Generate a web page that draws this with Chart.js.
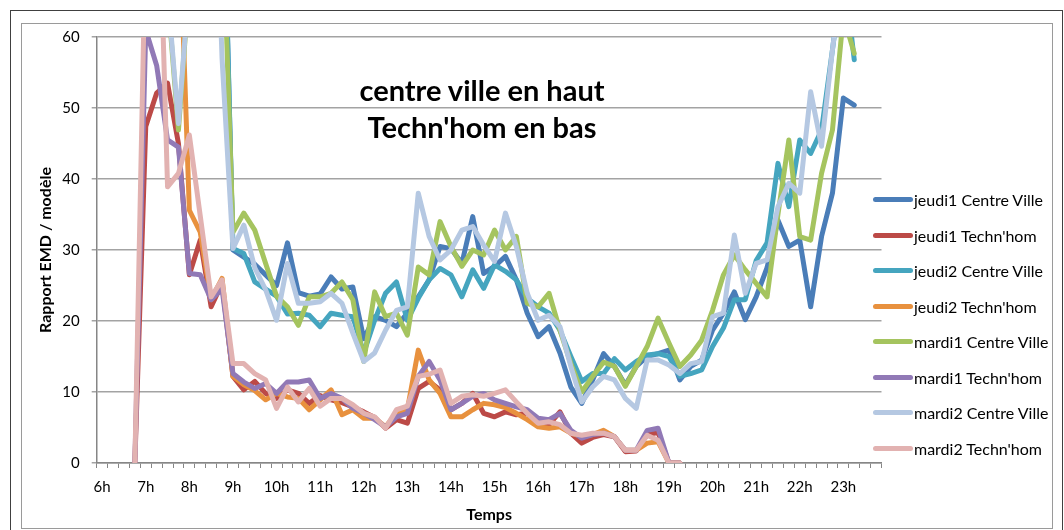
<!DOCTYPE html>
<html>
<head>
<meta charset="utf-8">
<script src="https://cdn.jsdelivr.net/npm/chart.js@4.4.0/dist/chart.umd.min.js"></script>
<style>
  html, body { margin:0; padding:0; background:#fff; }
  #wrap { position:relative; width:1064px; height:530px; overflow:hidden; font-family:Lato, "Liberation Sans", sans-serif; }
  #c { position:absolute; left:0; top:0; }
  #outer { position:absolute; left:10px; top:10px; width:1051px; height:540px; border:1px solid #404040; pointer-events:none; }
  #frame { position:absolute; left:21px; top:23px; width:1030px; height:504px; border:1px solid #9a9a9a; pointer-events:none; }
  #title { position:absolute; left:232px; top:71px; width:500px; text-align:center; font-weight:bold; font-size:29px; line-height:37px; color:#000; }
  #legend { position:absolute; left:873px; top:182px; }
  .item { height:35.5px; display:flex; align-items:center; font-size:16px; color:#000; white-space:nowrap; }
  .swatch { width:40px; height:5px; border-radius:3px; margin-right:1px; }
</style>
</head>
<body>
<div id="wrap">
  <canvas id="c" width="1064" height="530"></canvas>
  <div id="title">centre ville en haut<br>Techn'hom en bas</div>
  <div id="legend"></div>
  <div id="frame"></div>
  <div id="outer"></div>
</div>
<script>
// heures affichées sur l'axe (une catégorie par quart d'heure)
const HOURS = ["6h","7h","8h","9h","10h","11h","12h","13h","14h","15h","16h","17h","18h","19h","20h","21h","22h","23h"];
const QUARTERS = ["00","15","30","45"];

const SERIES_NAMES = [
  "jeudi1 Centre Ville", "jeudi1 Techn'hom",
  "jeudi2 Centre Ville", "jeudi2 Techn'hom",
  "mardi1 Centre Ville", "mardi1 Techn'hom",
  "mardi2 Centre Ville", "mardi2 Techn'hom"
];
const SERIES_COLORS = ["#4A7DB8","#BC4A47","#45A5BF","#E8913E","#A5C45F","#9179B6","#B5C8E2","#E2B2B1"];

// valeurs (>60 = hors cadre)
const jeudi1CV = [null,null,null,null,null,100,100,100,100,100,100,90,
  30,29,28,26.5,25,31,24,23.5,23.8,26.2,24.5,24.8,
  17.5,20.6,20.1,19.2,21.1,23.4,25.8,30.5,30.2,28.1,34.7,26.7,
  27.7,29.1,25.8,21.1,17.8,19.2,15.5,10.7,8.4,11.7,15.4,13.6,
  11,13.6,15,15.4,15.9,11.7,13.6,14.5,18.7,21.1,24.1,20.2,
  23.4,27.5,34.2,30.5,31.4,22,31.9,38,51.4,50.4,null,null];
const jeudi1TH = [null,null,null,0,47.4,52.1,53.5,45,26.5,31.4,22,25.3,
  12.2,10.3,11.5,9.8,9.1,10.3,9.8,8.4,9.5,8.9,8.5,7.9,
  7.2,6.4,4.9,6.1,5.6,10.5,11.5,10.3,7.5,8.4,9.8,7,
  6.5,7.2,6.8,7,5.6,5.4,7.2,4.2,2.8,3.6,4,3.7,
  1.6,1.7,4,4.3,0,0,null,null,null,null,null,null,
  null,null,null,null,null,null,null,null,null,null,null,null];
const jeudi2CV = [null,null,null,null,null,100,100,100,100,100,100,91,
  30.2,29.5,25.5,24.5,23.5,21,21.1,20.8,19.2,21.1,20.8,20.6,
  15.5,20.1,23.9,25.5,20.1,23.2,25.8,27.4,26.5,23.4,27.2,24.6,
  27.9,27,25.8,23.2,22,21.1,18.7,15,11.5,12.6,12.6,14.7,
  13.1,14.3,15.2,15.4,15,12.2,12.6,13.1,16.4,19,23,23,
  28.5,31,42.2,36.1,45.5,43.6,46.9,58.2,70,56.8,null,null];
const jeudi2TH = [null,null,null,null,90,100,95,80,35.6,32.5,23,26,
  12.2,11,10.2,8.9,9.8,9.3,9.1,7.5,8.9,10.3,6.8,7.5,
  6.3,6.3,5.1,7,7.5,15.9,11.7,9.8,6.5,6.5,7.5,8.4,
  8.2,7.8,7,6.1,5.1,4.9,5.1,4.2,3.7,4,4.6,3.7,
  1.8,1.8,2.8,3,0,0,null,null,null,null,null,null,
  null,null,null,null,null,null,null,null,null,null,null,null];
const mardi1CV = [null,null,null,null,null,100,66,46.9,68,100,100,80,
  32.5,35.2,32.8,28.1,23.5,22,19.4,23.4,23.4,23.9,25.5,23,
  14.3,24.1,20.6,21.1,18,27.6,26.5,34,30.5,27.7,30,29.3,
  32.8,30,31.9,22.5,22,23.9,18.7,14,10,12.2,14.2,13.6,
  10.8,13.6,16.4,20.4,16.9,13.6,15.2,17.3,21.5,26.5,29.3,27.2,
  25.3,23.4,35,45.5,31.9,31.4,40.8,46.9,63,57.7,null,null];
const mardi1TH = [null,null,null,0,61,56,45.5,44.5,26.7,26.5,23,24.5,
  12.6,11.4,10.5,11.2,9.8,11.4,11.4,11.7,9.1,9.8,9.1,7.7,
  7,6.1,5.1,6.5,7,12.2,14.3,11.7,7.5,8.4,9.4,9.8,
  8.9,8.4,7.9,7.5,6.3,6.1,7,4.6,3.5,4,4.2,3.7,
  1.8,1.8,4.6,4.9,0,0,null,null,null,null,null,null,
  null,null,null,null,null,null,null,null,null,null,null,null];
const mardi2CV = [null,null,null,null,null,100,66.5,47.8,68,100,100,57,
  30.2,33.5,27.5,24.4,20.1,28.1,22.5,22.5,22.7,23.9,22.5,18.3,
  14.3,15.5,18.7,21.5,22,38,31.9,28.6,30,32.8,33.3,30.7,
  28.4,35.2,30.5,23.9,20.1,20.8,19.2,13.6,8.6,10.7,12.2,11.7,
  9.1,7.7,14.5,14.5,13.8,12.6,14,14.3,20.6,21.1,32.1,23.9,
  28.1,28.6,36.1,39.4,38,52.3,44.6,58.2,70,75,null,null];
const mardi2TH = [null,null,null,0,75,92,38.9,40.8,46.2,34.8,23.4,25.8,
  14,14,12.6,11.7,7.7,10.7,8.6,10.5,8,9.1,9.1,8.2,
  7,6.5,4.9,7.5,8,12.2,12.5,13.1,8.4,9.4,9.6,9.4,
  9.8,10.3,8.6,7,5.6,5.8,5.4,4.2,3.9,4.2,4.2,3.7,
  1.8,1.8,3.9,3.2,0,0,null,null,null,null,null,null,
  null,null,null,null,null,null,null,null,null,null,null,null];

const SERIES = [jeudi1CV, jeudi1TH, jeudi2CV, jeudi2TH, mardi1CV, mardi1TH, mardi2CV, mardi2TH];

// catégories : 6h00, 6h15 ... 23h45
const categories = [];
HOURS.forEach(h => QUARTERS.forEach(q => categories.push(h + q)));

const FONT = "Lato, 'Liberation Sans', sans-serif";
const GRID = "#a3a3a3";

/* =====================
   légende HTML
===================== */
const legend = document.getElementById("legend");
SERIES_NAMES.forEach((name, i) => {
  const row = document.createElement("div");
  row.className = "item";
  row.innerHTML = `<span class="swatch" style="background:${SERIES_COLORS[i]}"></span>${name}`;
  legend.appendChild(row);
});

/* =====================
   graphique
===================== */
const datasets = SERIES.map((values, i) => ({
  label: SERIES_NAMES[i],
  data: values,
  borderColor: SERIES_COLORS[i],
  backgroundColor: SERIES_COLORS[i],
  borderWidth: 5,
  borderJoinStyle: "round",
  borderCapStyle: "round",
  pointRadius: 0,
  tension: 0,
  clip: 0,
  order: SERIES.length - i   // la dernière série est dessinée au-dessus
}));

new Chart(document.getElementById("c"), {
  type: "line",
  data: { labels: categories, datasets: datasets },
  options: {
    responsive: false,
    animation: false,
    layout: { padding: { top: 37, right: 182.5, bottom: 0, left: 0 } },
    plugins: { legend: { display: false }, tooltip: { enabled: false } },
    scales: {
      x: {
        type: "category",
        offset: true,
        afterFit: s => { s.height = 67; },
        grid: { offset: true, drawOnChartArea: false, drawTicks: true, tickLength: 5, color: "#868686", lineWidth: 1 },
        border: { display: true, color: "#868686", width: 1.5 },
        ticks: {
          autoSkip: false, maxRotation: 0, padding: 10, color: "#000",
          font: { family: FONT, size: 15 },
          callback: function(v, i){ return i % 4 === 0 ? HOURS[i/4] : ""; }
        },
        title: { display: true, text: "Temps", color: "#000", font: { family: FONT, size: 16, weight: "bold" }, padding: { top: 0, bottom: 6 } }
      },
      y: {
        min: 0, max: 60,
        afterFit: s => { s.width = 96.7; },
        grid: { color: GRID, lineWidth: 1.5, drawTicks: true, tickLength: 5 },
        border: { display: true, color: "#868686", width: 1.5 },
        ticks: { stepSize: 10, padding: 12, color: "#000", font: { family: FONT, size: 15 } },
        title: { display: true, text: "Rapport EMD / modèle", color: "#000", font: { family: FONT, size: 16, weight: "bold" }, padding: { top: 36 } }
      }
    }
  }
});
</script>
</body>
</html>
